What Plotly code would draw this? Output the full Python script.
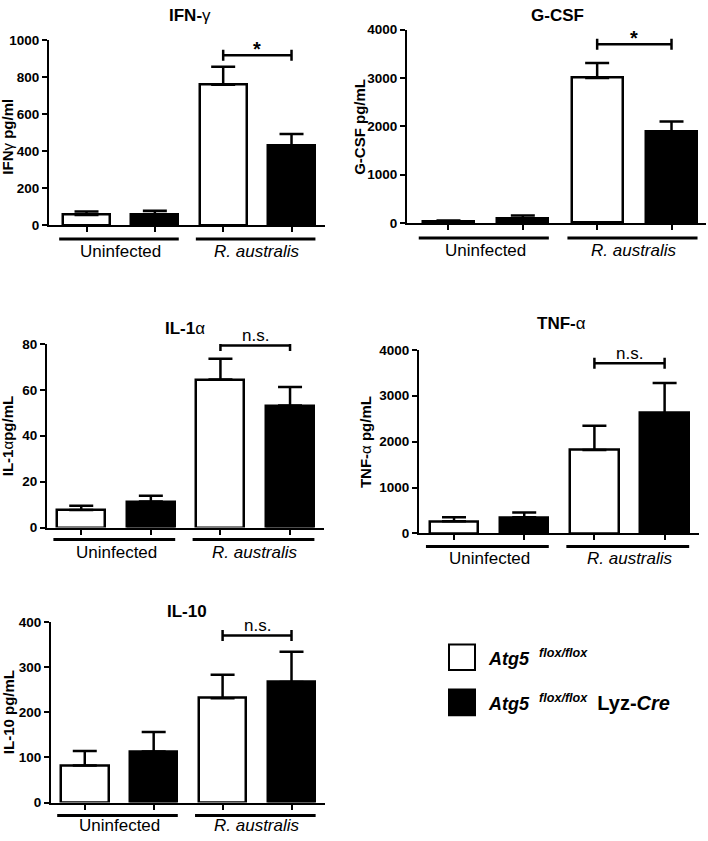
import plotly.graph_objects as go

# ---------------- data ----------------
groups = ["Uninfected", "<i>R. australis</i>"]
bar_pos = [0, 1, 2, 3]
bar_colors = ["white", "black", "white", "black"]

ifn_vals = [55, 60, 760, 430]
ifn_err = [18, 18, 97, 63]
gcsf_vals = [40, 85, 3000, 1900]
gcsf_err = [15, 70, 310, 200]
il1a_vals = [7.6, 11.3, 64.5, 53.2]
il1a_err = [1.9, 2.6, 9.0, 8.0]
tnf_vals = [265, 350, 1820, 2620]
tnf_err = [85, 105, 525, 655]
il10_vals = [82, 113, 231, 267]
il10_err = [32, 43, 52, 67]

ifn_ticks = [0, 200, 400, 600, 800, 1000]
gcsf_ticks = [0, 1000, 2000, 3000, 4000]
il1a_ticks = [0, 20, 40, 60, 80]
tnf_ticks = [0, 1000, 2000, 3000, 4000]
il10_ticks = [0, 100, 200, 300, 400]

bracket_vals = [920, 3695, 79.3, 3707, 370]
sig_labels = ["*", "*", "n.s.", "n.s.", "n.s."]

GR = "<span style='font-weight:normal'>%s</span>"
titles = ["IFN-" + GR % "γ", "G-CSF", "IL-1" + GR % "α", "TNF-" + GR % "α", "IL-10"]
ytitles = ["IFN" + GR % "γ" + " pg/ml", "G-CSF pg/mL", "IL-1" + GR % "α" + "pg/mL",
           "TNF-" + GR % "α" + " pg/mL", "IL-10 pg/mL"]

# ---------------- layout geometry (pixels) ----------------
W, H = 708, 841
FONT = "Liberation Sans, Arial, Helvetica, sans-serif"

panels = [
    dict(vals=ifn_vals, err=ifn_err, ticks=ifn_ticks,
         dx=(49, 325), dy=(222, 34), xr=(-0.549, 3.49),
         title=(190, 9), ytitle=(8, 132), ul=14, lab=26),
    dict(vals=gcsf_vals, err=gcsf_err, ticks=gcsf_ticks,
         dx=(407, 706), dy=(220, 23), xr=(-0.558, 3.464),
         title=(557, 9), ytitle=(360, 122), ul=15, lab=27),
    dict(vals=il1a_vals, err=il1a_err, ticks=il1a_ticks,
         dx=(47, 324), dy=(530, 343), xr=(-0.492, 3.488),
         title=(185, 327), ytitle=(7, 437), ul=12, lab=25),
    dict(vals=tnf_vals, err=tnf_err, ticks=tnf_ticks,
         dx=(419, 699), dy=(536, 349), xr=(-0.499, 3.49),
         title=(561, 322), ytitle=(365, 443), ul=13, lab=25),
    dict(vals=il10_vals, err=il10_err, ticks=il10_ticks,
         dx=(51, 325), dy=(810, 626), xr=(-0.49, 3.486),
         title=(187, 615), ytitle=(8, 718), ul=13, lab=23),
]


def fx(px):
    return px / W


def fy(py):
    return 1 - py / H


fig = go.Figure()
shapes = []
annotations = []
layout_axes = {}

for i, p in enumerate(panels):
    n = "" if i == 0 else str(i + 1)
    xa, ya = "x" + n, "y" + n
    fig.add_trace(go.Bar(
        x=bar_pos, y=p["vals"], width=0.69, cliponaxis=False,
        marker=dict(color=bar_colors, line=dict(color="black", width=2.5)),
        error_y=dict(type="data", symmetric=False, array=p["err"],
                     arrayminus=[0] * 4, color="black", thickness=2.5, width=12),
        xaxis=xa, yaxis=ya, showlegend=False, hoverinfo="skip",
    ))
    layout_axes["xaxis" + n] = dict(
        domain=[fx(p["dx"][0]), fx(p["dx"][1])], range=list(p["xr"]),
        anchor=ya, showline=True, linecolor="black", linewidth=2,
        ticks="outside", tickvals=bar_pos, ticklen=5, tickwidth=2, tickcolor="black",
        showticklabels=False, showgrid=False, zeroline=False, fixedrange=True,
    )
    layout_axes["yaxis" + n] = dict(
        domain=[fy(p["dy"][0]), fy(p["dy"][1])], range=[0, p["ticks"][-1]],
        anchor=xa, showline=True, linecolor="black", linewidth=2,
        ticks="outside", tickvals=p["ticks"], ticklen=5, tickwidth=2, tickcolor="black",
        tickfont=dict(family=FONT, size=13.5, color="black", weight="bold"),
        showgrid=False, zeroline=False, fixedrange=True,
    )
    # group underlines + labels
    for (a, b), lab, cx in zip([(-0.4, 1.35), (1.6, 3.35)], groups, [0.5, 2.5]):
        shapes.append(dict(type="line", xref=xa, yref=ya + " domain",
                           ysizemode="pixel", yanchor=0,
                           x0=a, x1=b, y0=-p["ul"], y1=-p["ul"],
                           line=dict(color="black", width=3)))
        annotations.append(dict(xref=xa, yref=ya + " domain", x=cx, y=0,
                                yshift=-p["lab"], yanchor="middle", xanchor="center",
                                text=lab, showarrow=False,
                                font=dict(family=FONT, size=17, color="black")))
    # significance bracket
    by = bracket_vals[i]
    shapes.append(dict(type="line", xref=xa, yref=ya, x0=2, x1=3, y0=by, y1=by,
                       line=dict(color="black", width=2.5)))
    for xe in (2, 3):
        shapes.append(dict(type="line", xref=xa, yref=ya, ysizemode="pixel",
                           yanchor=by, x0=xe, x1=xe, y0=-5.5, y1=5.5,
                           line=dict(color="black", width=2.5)))
    sig = sig_labels[i]
    if sig == "*":
        annotations.append(dict(xref=xa, yref=ya, x=2.5, y=by, yshift=6,
                                yanchor="middle", text="<b>*</b>", showarrow=False,
                                font=dict(family=FONT, size=20, color="black")))
    else:
        annotations.append(dict(xref=xa, yref=ya, x=2.5, y=by, yshift=10,
                                yanchor="middle", text=sig, showarrow=False,
                                font=dict(family=FONT, size=17, color="black")))
    # panel title
    annotations.append(dict(xref="paper", yref="paper", x=fx(p["title"][0]),
                            y=fy(p["title"][1]), xanchor="center", yanchor="middle",
                            text=titles[i], showarrow=False,
                            font=dict(family=FONT, size=17, color="black", weight="bold")))
    # y-axis title
    annotations.append(dict(xref="paper", yref="paper", x=fx(p["ytitle"][0]),
                            y=fy(p["ytitle"][1]), xanchor="center", yanchor="middle",
                            textangle=-90, text=ytitles[i], showarrow=False,
                            font=dict(family=FONT, size=15, color="black", weight="bold")))

# legend
legend_items = [
    ("white", "<b><i>Atg5</i>\u00a0\u00a0<sup><i>flox/flox</i></sup></b>", 662),
    ("black", "<b><i>Atg5</i>\u00a0\u00a0<sup><i>flox/flox</i></sup>\u00a0\u00a0"
              "<span style='font-size:20px'>Lyz-<i>Cre</i></span></b>", 708),
]
for col, txt, cy in legend_items:
    shapes.append(dict(type="rect", xref="paper", yref="paper",
                       x0=fx(449), x1=fx(475), y0=fy(cy + 13), y1=fy(cy - 13),
                       fillcolor=col, line=dict(color="black", width=2)))
    annotations.append(dict(xref="paper", yref="paper", x=fx(486), y=fy(cy),
                            xanchor="left", yanchor="middle", text=txt, showarrow=False,
                            font=dict(family=FONT, size=18, color="black")))

fig.update_layout(
    width=W, height=H, margin=dict(l=0, r=0, t=0, b=0),
    paper_bgcolor="white", plot_bgcolor="white",
    shapes=shapes, annotations=annotations, bargap=0,
    **layout_axes,
)

post = """
document.documentElement.style.margin='0';
document.body.style.margin='0';
document.body.style.overflow='hidden';
"""
fig.write_html("out.html", config={"displayModeBar": False}, post_script=post)
